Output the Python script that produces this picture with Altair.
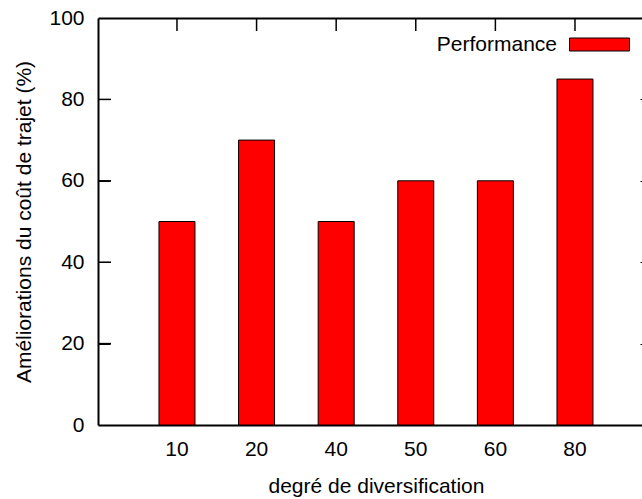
import altair as alt
import pandas as pd

# ---- data ----
categories = ["10", "20", "40", "50", "60", "80"]
performance = [50, 70, 50, 60, 60, 85]
series_name = "Performance"
y_ticks = [0, 20, 40, 60, 80, 100]
inner_ticks = [20, 40, 60, 80]

df = pd.DataFrame({
    "degre": categories,
    "perf": performance,
    "serie": [series_name] * len(categories),
})
df_xticks = pd.DataFrame({"degre": categories})
df_yticks = pd.DataFrame({"perf": inner_ticks})

FONT = "Liberation Sans"
FS = 21
X_TITLE = "degré de diversification"
Y_TITLE = "Améliorations du coût de trajet (%)"

x_scale = alt.Scale(paddingInner=0, paddingOuter=0.417, align=0.59)
y_scale = alt.Scale(domain=[0, 100], nice=False)

bars = alt.Chart(df).mark_bar(size=36, stroke="black", strokeWidth=1, fillOpacity=1).encode(
    x=alt.X("degre:N", sort=categories, scale=x_scale, title=X_TITLE,
            axis=alt.Axis(orient="bottom", labelAngle=0, ticks=False, tickSize=0,
                          domain=True, domainColor="black", domainWidth=2,
                          labelPadding=13, titlePadding=16, titleX=278, grid=False)),
    y=alt.Y("perf:Q", scale=y_scale, title=Y_TITLE,
            axis=alt.Axis(orient="left", values=y_ticks,
                          ticks=False, tickSize=0, domain=True, domainColor="black",
                          domainWidth=2, labelPadding=14, titlePadding=14,
                          grid=True, gridColor="black",
                          gridOpacity={"condition": {"test": "datum.value > 0", "value": 1}, "value": 0},
                          gridWidth={"condition": {"test": "datum.value >= 100", "value": 2}, "value": 1},
                          gridDash={"condition": {"test": "datum.value >= 100", "value": []},
                                    "value": [12, 530, 12]})),
    color=alt.Color("serie:N", scale=alt.Scale(range=["#ff0000"]),
                    legend=alt.Legend(title=None, orient="none", legendX=438, legendY=16,
                                      symbolType="M2.3,-0.65H8.3V0.65H2.3Z", symbolSize=400,
                                      symbolStrokeColor="black", symbolStrokeWidth=1,
                                      symbolOpacity=1, labelAlign="right", labelOffset=0,
                                      labelFont=FONT, labelFontSize=FS, labelColor="black",
                                      padding=0, labelLimit=300)),
)

# inward mirror ticks on the top edge (one per category)
top_ticks = alt.Chart(df_xticks).mark_rule(color="#000000", strokeWidth=1.5, opacity=1).encode(
    x=alt.X("degre:N", sort=categories, scale=x_scale, title=X_TITLE),
    y=alt.value(1),
    y2=alt.value(13),
)

# inward ticks on the left edge
left_ticks = alt.Chart(df_yticks).mark_rule(color="#000000", strokeWidth=1.5, opacity=1).encode(
    y=alt.Y("perf:Q", scale=y_scale, title=Y_TITLE),
    x=alt.value(1),
    x2=alt.value(13),
)

chart = alt.layer(bars, top_ticks, left_ticks).properties(
    width=544, height=407,
    autosize=alt.AutoSizeParams(type="none"),
    padding={"left": 98, "top": 18, "right": 0, "bottom": 74},
).configure_axis(
    labelFont=FONT, labelFontSize=FS, titleFont=FONT, titleFontSize=FS,
    titleFontWeight="normal", labelColor="black", titleColor="black",
).configure_view(strokeWidth=0)

chart.save("out.html", embed_options={"renderer": "svg", "actions": False})
